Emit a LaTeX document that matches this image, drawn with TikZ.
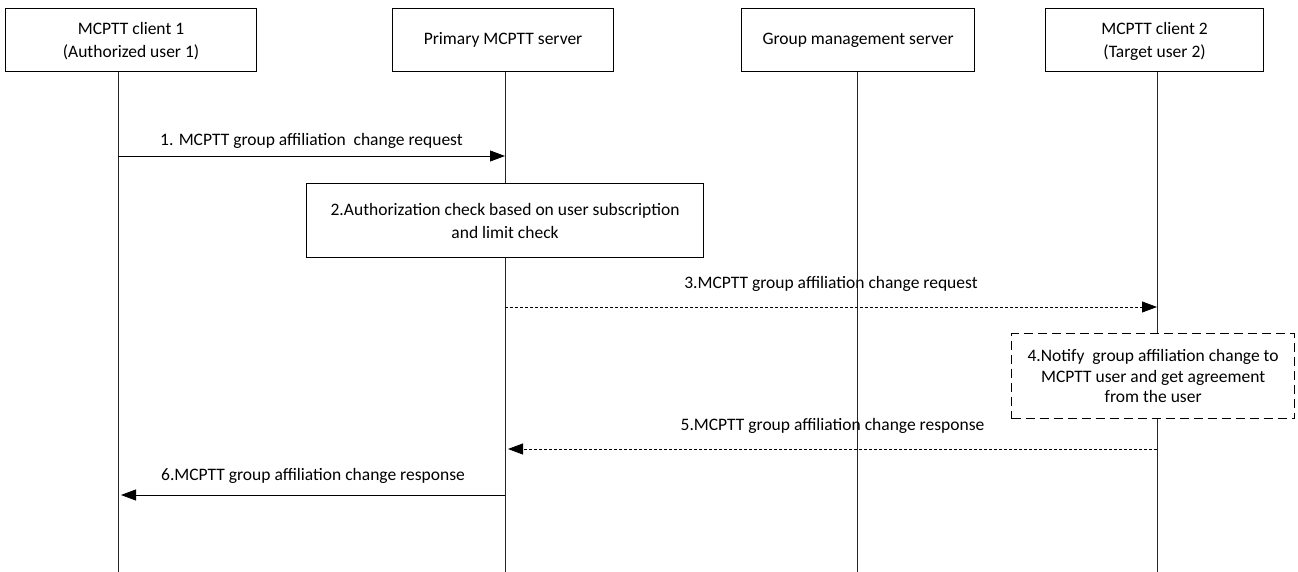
\documentclass[tikz,border=0pt]{standalone}
\usepackage{fontspec}
\setmainfont{Carlito}
\usetikzlibrary{arrows.meta,positioning}

\begin{document}
\begin{tikzpicture}[x=1pt, y=-1pt,
    entity/.style={rectangle, draw=black, line width=1.1pt, fill=white, anchor=north west, minimum height=63pt, inner sep=0pt, align=center, font=\fontsize{17.5}{23}\selectfont},
    action/.style={rectangle, draw=black, line width=1.1pt, fill=white, anchor=north west, inner sep=0pt, align=center, font=\fontsize{17.5}{23}\selectfont},
    optbox/.style={action, dashed, dash pattern=on 9pt off 5pt, line width=1.3pt, font=\fontsize{17.5}{20.5}\selectfont},
    life/.style={draw=black!85, line width=0.8pt},
    msg/.style={-{Triangle[length=15pt, width=11pt]}, line width=0.8pt},
    rmsg/.style={msg, dash pattern=on 3pt off 2pt},
    lbl/.style={font=\fontsize{17.5}{20}\selectfont, midway}
]
    \useasboundingbox (0,0) rectangle (1298,572);

    % Lifelines
    \coordinate (l1) at (118,71);   \coordinate (l1e) at (118,572);
    \coordinate (l2) at (505,71);   \coordinate (l2e) at (505,572);
    \coordinate (l3) at (857,71);   \coordinate (l3e) at (857,572);
    \coordinate (l4) at (1157,71);  \coordinate (l4e) at (1157,572);
    \draw[life] (l1) -- (l1e);
    \draw[life] (l2) -- (l2e);
    \draw[life] (l3) -- (l3e);
    \draw[life] (l4) -- (l4e);

    % Entities
    \node[entity, minimum width=251pt, text depth=0pt] (client1) at (5,8) {MCPTT client 1\\(Authorized user 1)};
    \node[entity, minimum width=221pt] (primary) at (392,8) {Primary MCPTT server};
    \node[entity, minimum width=233pt] (gms) at (741,8) {Group management server};
    \node[entity, minimum width=218pt, text depth=0pt] (client2) at (1045,8) {MCPTT client 2\\(Target user 2)};

    % Local actions
    \node[action, minimum width=397pt, minimum height=74pt] (auth) at (306,183) {2.Authorization check based on user subscription\\and limit check};
    \node[optbox, minimum width=283pt, minimum height=85pt] (notify) at (1011,333) {4.Notify\ \ group affiliation change to\\MCPTT user and get agreement\\from the user};

    % Messages
    \coordinate (m1a) at (118,156);  \coordinate (m1b) at (505,156);
    \coordinate (m3a) at (505,307);  \coordinate (m3b) at (1157,307);
    \coordinate (m5a) at (1157,449); \coordinate (m5b) at (508,449);
    \coordinate (m6a) at (505,495);  \coordinate (m6b) at (121,495);
    \draw[msg] (m1a) -- node[lbl, above=4pt] {1. MCPTT group affiliation\ \ change request} (m1b);
    \draw[rmsg] (m3a) -- node[lbl, above=12pt] {3.MCPTT group affiliation change request} (m3b);
    \draw[rmsg] (m5a) -- node[lbl, above=12pt] {5.MCPTT group affiliation change response} (m5b);
    \draw[msg] (m6a) -- node[lbl, above=8pt] {6.MCPTT group affiliation change response} (m6b);
\end{tikzpicture}
\end{document}
